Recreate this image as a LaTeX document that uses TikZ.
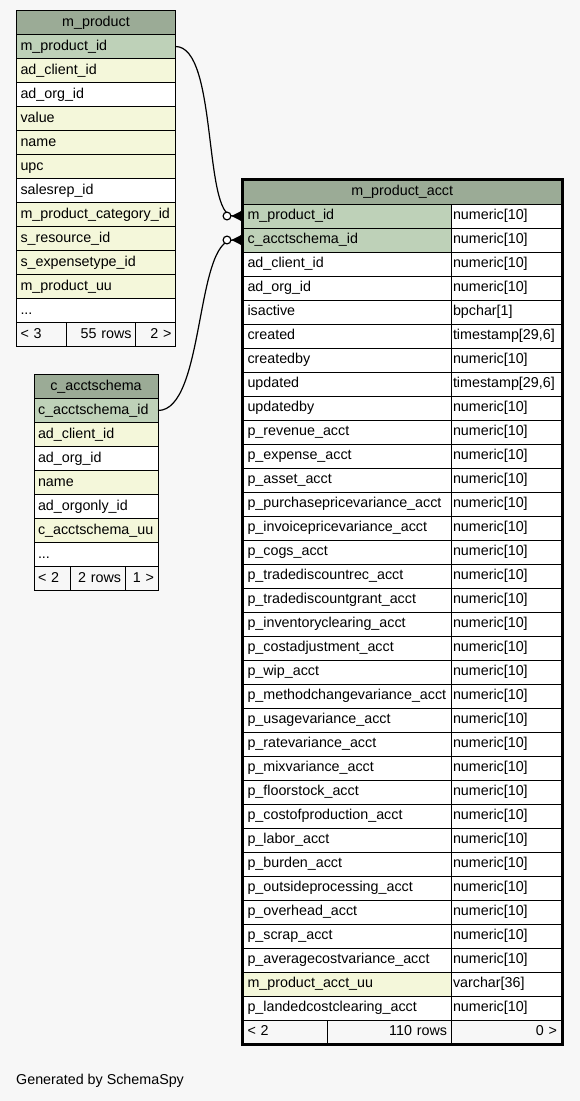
\documentclass[tikz,border=0pt]{standalone}
\usepackage{fontspec}
\setmainfont{Liberation Sans}
\usetikzlibrary{arrows.meta}
\definecolor{headgreen}{HTML}{9BAB96}
\definecolor{keygreen}{HTML}{BED1B8}
\definecolor{idxyellow}{HTML}{F4F7DA}
\definecolor{bggray}{HTML}{F7F7F7}
\newcommand{\tabfont}{\fontsize{14.3pt}{16pt}\selectfont}

\begin{document}
\begin{tikzpicture}[x=1pt, y=-1pt,
  cell/.style={draw=black, line width=1pt, anchor=north west, outer sep=0pt,
    inner xsep=4pt, inner ysep=0pt, minimum height=24pt, text height=10pt,
    text depth=3pt, text width=#1, align=left, font=\tabfont},
  typecell/.style={cell=106pt, inner xsep=2pt, fill=white},
  headrow/.style={fill=headgreen, align=center},
  pkrow/.style={fill=keygreen},
  idxrow/.style={fill=idxyellow},
  bodyrow/.style={fill=white},
  footrow/.style={fill=bggray},
  fk/.style={line width=1.2pt, shorten >=2pt,
    -{Circle[open, fill=white, length=9pt, width=9pt, line width=1.2pt]
      Triangle[reversed, length=10pt, width=10pt]}}
]
  % Background
  \fill[bggray] (0,0) rectangle (580,1101);

  % m_product
  \node[cell=151pt, headrow] (mp-head) at (16.5,10.5) {m\_product};
  \foreach \txt/\kind [count=\i] in {m\_product\_id/pkrow, ad\_client\_id/idxrow,
      ad\_org\_id/bodyrow, value/idxrow, name/idxrow, upc/idxrow, salesrep\_id/bodyrow,
      m\_product\_category\_id/idxrow, s\_resource\_id/idxrow, s\_expensetype\_id/idxrow,
      m\_product\_uu/idxrow}
    \node[cell=151pt, \kind] (mp-\i) at (16.5,{10.5+24*\i}) {\txt};
  \node[cell=151pt, bodyrow] (mp-more) at (16.5,298.5) {...};
  \node[cell=42pt, footrow] (mp-foot1) at (16.5,322.5) {< 3};
  \node[cell=61pt, footrow, align=right] (mp-foot2) at (66.5,322.5) {55 rows};
  \node[cell=32pt, footrow, align=right] (mp-foot3) at (135.5,322.5) {2 >};

  % c_acctschema
  \node[cell=116pt, headrow] (ca-head) at (34,374.5) {c\_acctschema};
  \foreach \txt/\kind [count=\i] in {c\_acctschema\_id/pkrow, ad\_client\_id/idxrow,
      ad\_org\_id/bodyrow, name/idxrow, ad\_orgonly\_id/bodyrow,
      c\_acctschema\_uu/idxrow}
    \node[cell=116pt, \kind] (ca-\i) at (34,{374.5+24*\i}) {\txt};
  \node[cell=116pt, bodyrow] (ca-more) at (34,542.5) {...};
  \node[cell=28pt, footrow] (ca-foot1) at (34,566.5) {< 2};
  \node[cell=47pt, footrow, align=right] (ca-foot2) at (70,566.5) {2 rows};
  \node[cell=25pt, footrow, align=right] (ca-foot3) at (125,566.5) {1 >};

  % m_product_acct
  \node[cell=309.5pt, headrow] (mpa-head) at (243.5,180) {m\_product\_acct};
  \foreach \txt/\kind/\type [count=\i] in {
      m\_product\_id/pkrow/numeric[10], c\_acctschema\_id/pkrow/numeric[10],
      ad\_client\_id/bodyrow/numeric[10], ad\_org\_id/bodyrow/numeric[10],
      isactive/bodyrow/bpchar[1], created/bodyrow/{timestamp[29,6]},
      createdby/bodyrow/numeric[10], updated/bodyrow/{timestamp[29,6]},
      updatedby/bodyrow/numeric[10], p\_revenue\_acct/bodyrow/numeric[10],
      p\_expense\_acct/bodyrow/numeric[10], p\_asset\_acct/bodyrow/numeric[10],
      p\_purchasepricevariance\_acct/bodyrow/numeric[10],
      p\_invoicepricevariance\_acct/bodyrow/numeric[10],
      p\_cogs\_acct/bodyrow/numeric[10], p\_tradediscountrec\_acct/bodyrow/numeric[10],
      p\_tradediscountgrant\_acct/bodyrow/numeric[10],
      p\_inventoryclearing\_acct/bodyrow/numeric[10],
      p\_costadjustment\_acct/bodyrow/numeric[10], p\_wip\_acct/bodyrow/numeric[10],
      p\_methodchangevariance\_acct/bodyrow/numeric[10],
      p\_usagevariance\_acct/bodyrow/numeric[10], p\_ratevariance\_acct/bodyrow/numeric[10],
      p\_mixvariance\_acct/bodyrow/numeric[10], p\_floorstock\_acct/bodyrow/numeric[10],
      p\_costofproduction\_acct/bodyrow/numeric[10], p\_labor\_acct/bodyrow/numeric[10],
      p\_burden\_acct/bodyrow/numeric[10], p\_outsideprocessing\_acct/bodyrow/numeric[10],
      p\_overhead\_acct/bodyrow/numeric[10], p\_scrap\_acct/bodyrow/numeric[10],
      p\_averagecostvariance\_acct/bodyrow/numeric[10],
      m\_product\_acct\_uu/idxrow/varchar[36],
      p\_landedcostclearing\_acct/bodyrow/numeric[10]}
  {
    \node[cell=199.5pt, \kind] (mpa-\i) at (243.5,{180+24*\i}) {\txt};
    \node[typecell] (mpa-type-\i) at (451,{180+24*\i}) {\type};
  }
  \node[cell=75.8pt, footrow] (mpa-foot1) at (243.5,1020) {< 2};
  \node[cell=115.7pt, footrow, align=right] (mpa-foot2) at (327.3,1020) {110 rows};
  \node[cell=102pt, footrow, align=right] (mpa-foot3) at (451,1020) {0 >};
  \draw[line width=3pt] (242.5,179.5) rectangle (562,1044.5);

  % Foreign keys
  \draw[fk] (mp-1.east) .. controls (218,46.5) and (203,216) .. (mpa-1.west);
  \draw[fk] (ca-1.east) .. controls (205,410.5) and (195,240) .. (mpa-2.west);

  \node[anchor=west, inner sep=0pt, font=\tabfont] (credit) at (16,1081) {Generated by SchemaSpy};
\end{tikzpicture}
\end{document}
